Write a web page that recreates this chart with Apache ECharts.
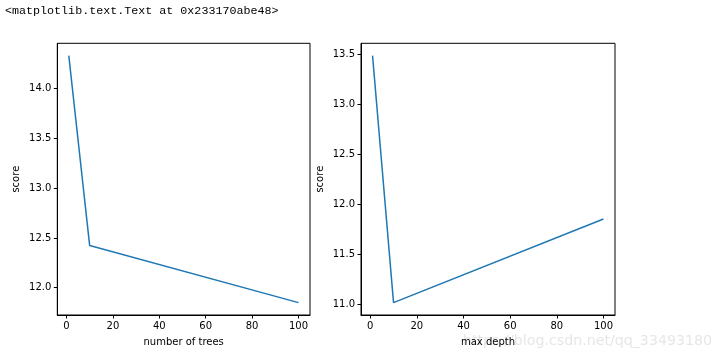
<!DOCTYPE html>
<html><head><meta charset="utf-8">
<script src="https://cdn.jsdelivr.net/npm/echarts@6/dist/echarts.min.js"></script>
<style>html,body{margin:0;padding:0;background:#fff}#c{width:725px;height:361px}</style>
</head><body><div id="c"></div>
<script>
const titleText = "<matplotlib.text.Text at 0x233170abe48>";
const treesX = [1, 10, 100];
const treesScore = [14.33, 12.423, 11.85];
const depthX = [1, 10, 100];
const depthScore = [13.49, 11.017, 11.854];
const xTicks = [0, 20, 40, 60, 80, 100];
const yTicksLeft = [12.0, 12.5, 13.0, 13.5, 14.0];
const yTicksRight = [11.0, 11.5, 12.0, 12.5, 13.0, 13.5];
const watermark = "https://blog.csdn.net/qq_33493180";

function margins(arr){const mn=Math.min(...arr),mx=Math.max(...arr),r=mx-mn;return [mn-0.05*r,mx+0.05*r];}
const lab = {fontFamily:'DejaVu Sans',fontSize:10,color:'#000'};
function xAx(idx,name,data){
  const m=margins(data);
  return {type:'value',gridIndex:idx,min:m[0],max:m[1],name:name,nameLocation:'middle',nameGap:22,
    nameTextStyle:{fontFamily:'DejaVu Sans',fontSize:10,color:'#000'},
    axisLine:{show:true,onZero:false,lineStyle:{color:'#000',width:1}},splitLine:{show:false},
    axisTick:{show:true,inside:false,length:3.5,lineStyle:{color:'#000',width:1},customValues:xTicks},
    axisLabel:Object.assign({margin:6,customValues:xTicks,formatter:v=>String(Math.round(v))},lab)};
}
function yAx(idx,data,ticks){
  const m=margins(data);
  return {type:'value',gridIndex:idx,min:m[0],max:m[1],name:'score',nameLocation:'middle',nameGap:36,
    nameTextStyle:{fontFamily:'DejaVu Sans',fontSize:10,color:'#000'},
    axisLine:{show:true,onZero:false,lineStyle:{color:'#000',width:1}},splitLine:{show:false},
    axisTick:{show:true,inside:false,length:3.5,lineStyle:{color:'#000',width:1},customValues:ticks},
    axisLabel:Object.assign({margin:6,customValues:ticks,formatter:v=>v.toFixed(1)},lab)};
}
const chart = echarts.init(document.getElementById('c'),null,{renderer:'canvas'});
chart.setOption({
  animation:false,
  graphic:[
    {type:'text',left:5,top:5,style:{text:titleText,fontFamily:'Liberation Mono',fontSize:11.7,fill:'#000'}},
    {type:'text',left:463,top:334,style:{text:watermark,fontFamily:'DejaVu Sans',fontSize:14.2,fill:'rgba(200,200,200,0.45)'}}
  ],
  grid:[
    {left:57.3,top:43.3,width:252.7,height:271.7,show:true,borderColor:'#000',borderWidth:1,backgroundColor:'transparent'},
    {left:361,top:43.3,width:254,height:271.7,show:true,borderColor:'#000',borderWidth:1,backgroundColor:'transparent'}
  ],
  xAxis:[xAx(0,'number of trees',treesX),xAx(1,'max depth',depthX)],
  yAxis:[yAx(0,treesScore,yTicksLeft),yAx(1,depthScore,yTicksRight)],
  series:[
    {type:'line',xAxisIndex:0,yAxisIndex:0,data:treesX.map((x,i)=>[x,treesScore[i]]),symbol:'none',lineStyle:{color:'#1f77b4',width:1.5}},
    {type:'line',xAxisIndex:1,yAxisIndex:1,data:depthX.map((x,i)=>[x,depthScore[i]]),symbol:'none',lineStyle:{color:'#1f77b4',width:1.5}}
  ]
});
</script></body></html>
